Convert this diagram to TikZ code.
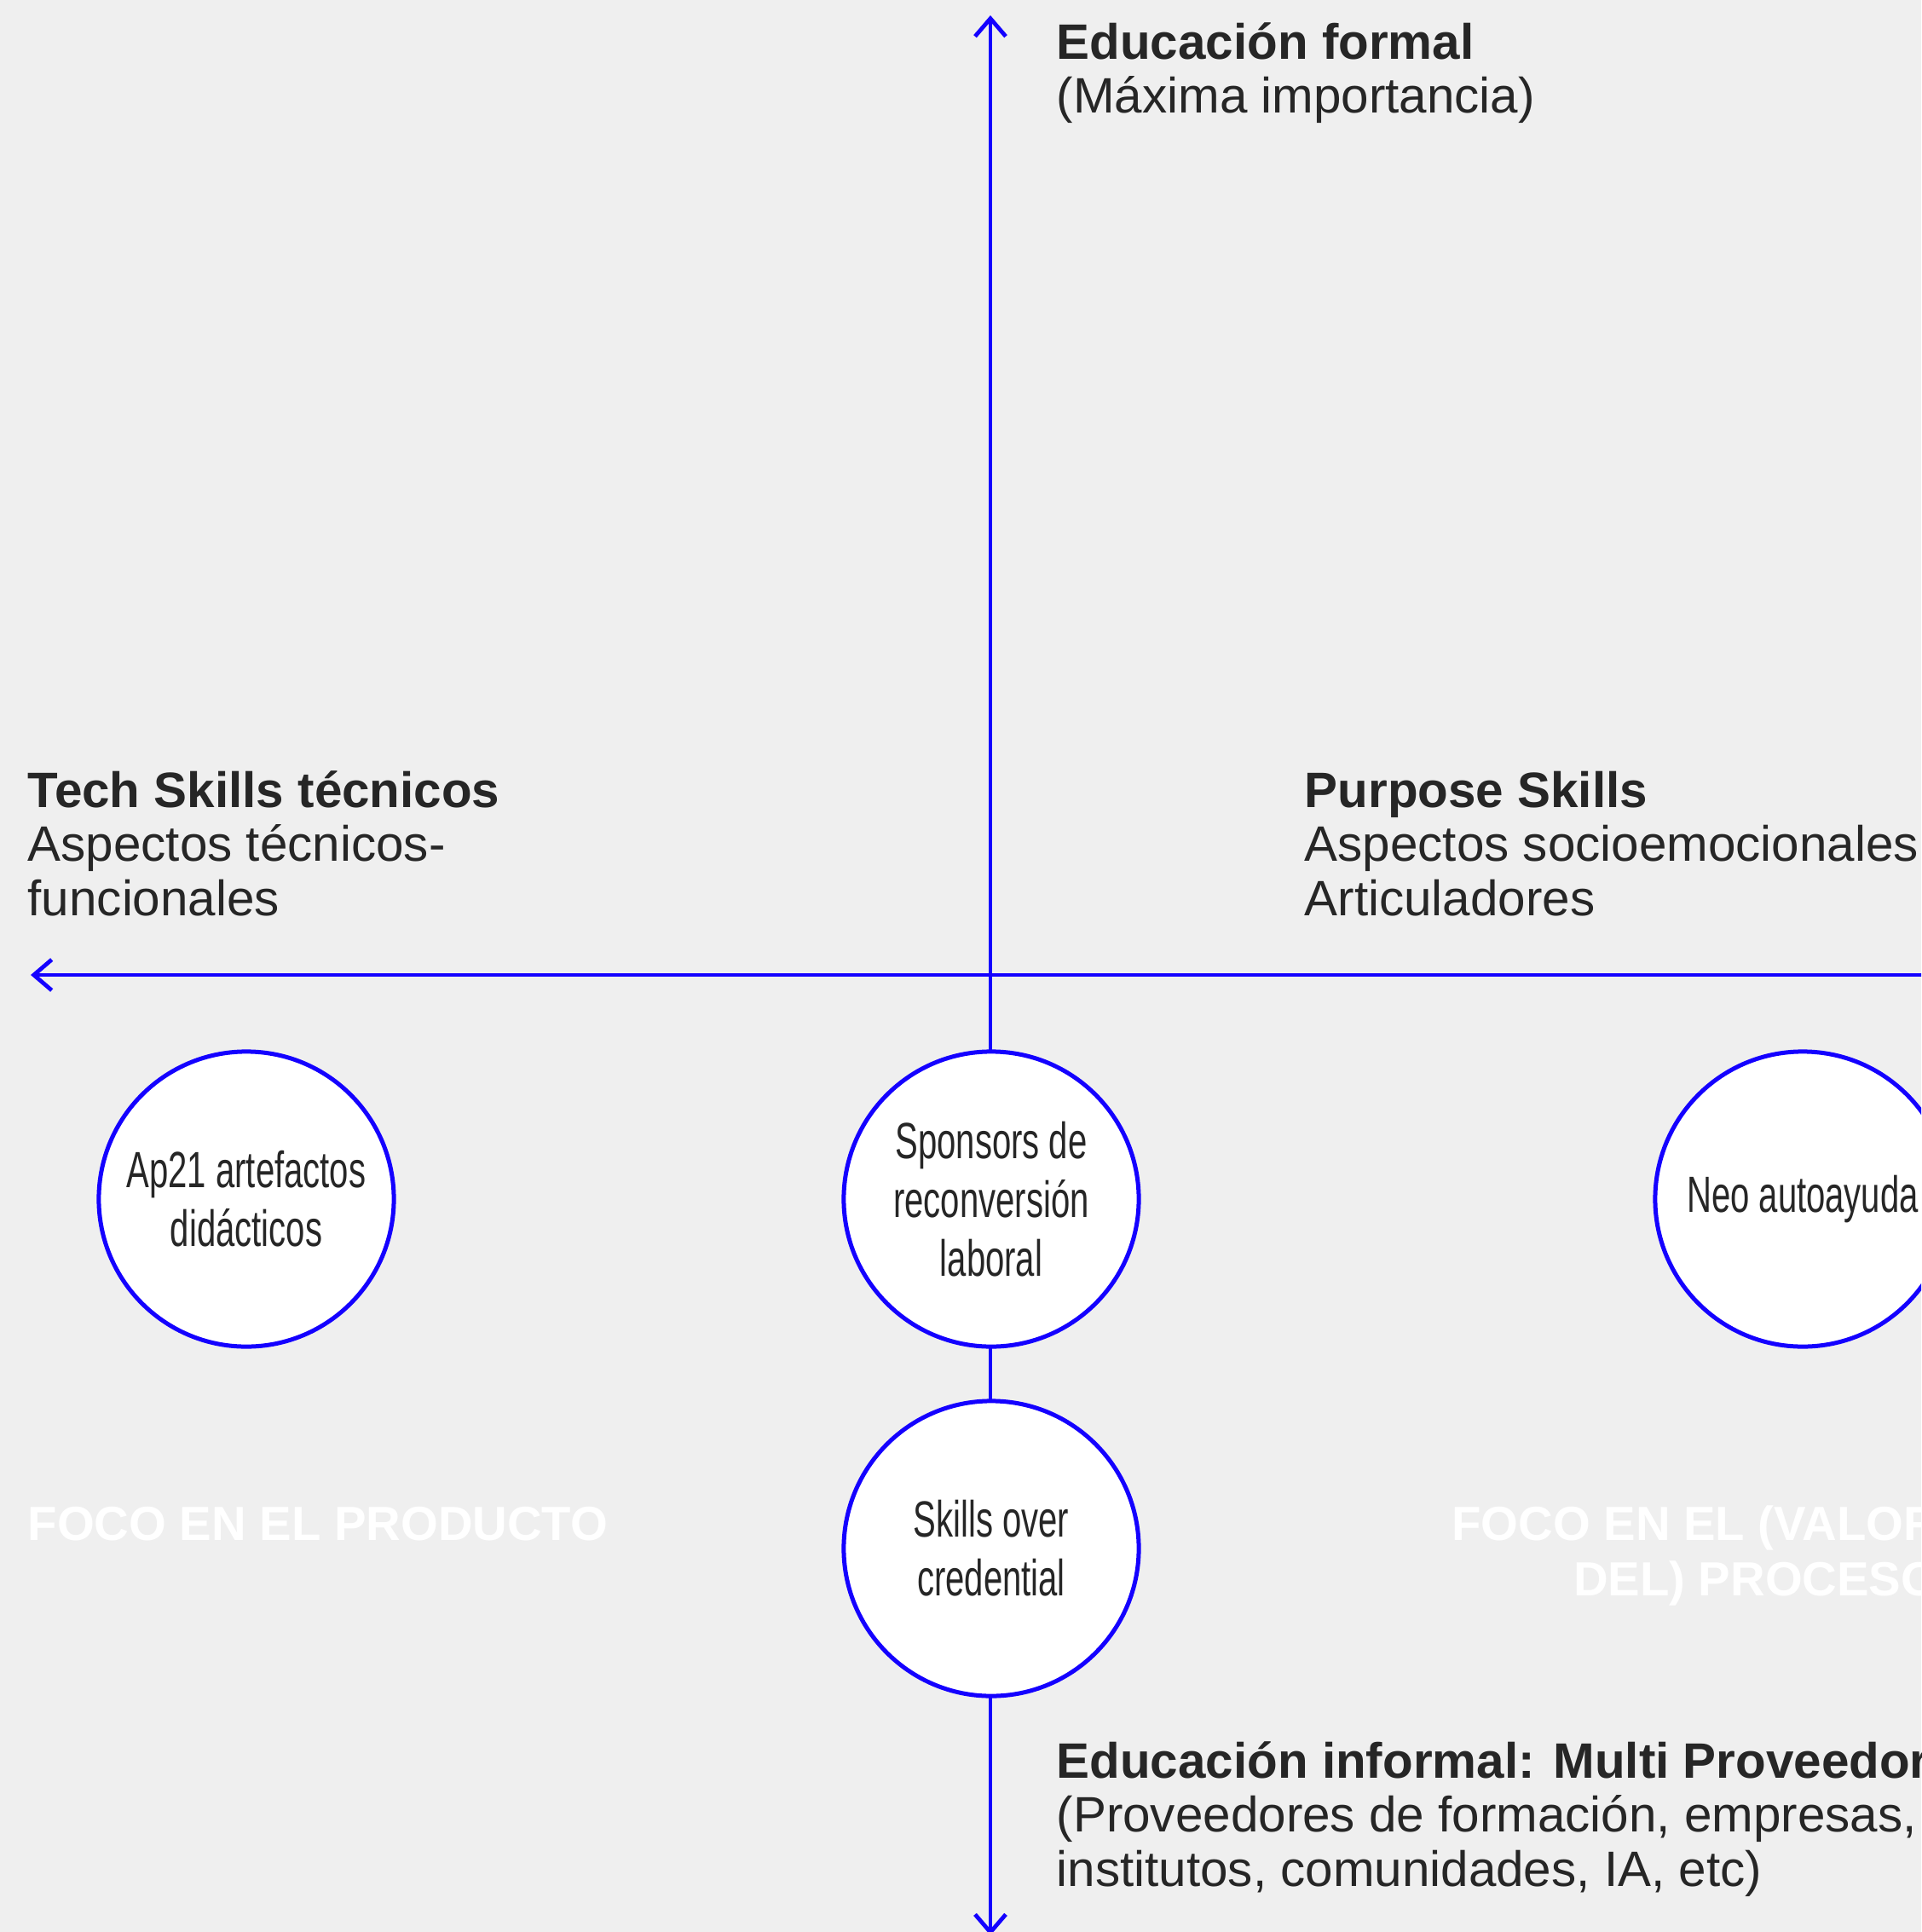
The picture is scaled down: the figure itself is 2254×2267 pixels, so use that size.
\documentclass[tikz,border=0pt]{standalone}
\usepackage{fontspec}
\setmainfont{Liberation Sans}
\newfontfamily\circfont[FakeStretch=0.67]{Liberation Sans}
\usetikzlibrary{arrows.meta,positioning}

\definecolor{axisblue}{RGB}{20,0,255}
\definecolor{textgray}{RGB}{38,38,38}
\definecolor{paper}{RGB}{239,239,239}

\begin{document}
\begin{tikzpicture}[
  x=0.01cm,y=-0.01cm,
  axis/.style={draw=axisblue, line width=0.048cm,
    {Straight Barb[length=2.1mm,width=3.6mm]}-{Straight Barb[length=2.1mm,width=3.6mm]}},
  quadrant/.style={circle, draw=axisblue, line width=0.05cm, fill=white,
    minimum size=3.46cm, inner sep=0pt, align=center, text=textgray,
    font=\circfont\fontsize{17}{19.6}\selectfont},
  heading/.style={anchor=base west, inner sep=0pt, align=left, text=textgray,
    font=\fontsize{16.6}{18}\selectfont},
  focus/.style={inner sep=0pt, text=white,
    font=\bfseries\fontsize{16}{18.4}\selectfont}
]
\useasboundingbox (0,0) rectangle (2254,2267);
\fill[paper] (0,0) rectangle (2254,2267);
\clip (0,0) rectangle (2254,2267);

% axes
\coordinate (top) at (1162,18);
\coordinate (bottom) at (1162,2271);
\coordinate (left) at (36,1144);
\coordinate (right) at (2320,1144);
\draw[axis] (bottom) -- (top);
\draw[axis] (right) -- (left);

% axis labels (anchored at the last line)
\node[heading] (formal) at (1239,133)
  {\textbf{Educación formal}\\(Máxima importancia)};
\node[heading] (tech) at (32,1074)
  {\textbf{Tech Skills técnicos}\\Aspectos técnicos-\\funcionales};
\node[heading] (purpose) at (1530,1074)
  {\textbf{Purpose Skills}\\Aspectos socioemocionales\\Articuladores};
\node[heading] (informal) at (1239,2213)
  {\textbf{Educación informal: Multi Proveedores}\\(Proveedores de formación, empresas,\\institutos, comunidades, IA, etc)};

% focus labels
\node[focus, anchor=base west] (producto) at (32,1807)
  {FOCO EN EL PRODUCTO};
\node[focus, anchor=base east, align=right] (proceso) at (2275,1872)
  {FOCO EN EL (VALOR\\DEL) PROCESO};

% circles
\node[quadrant] (ap21) at (289,1407) {Ap21 artefactos\\didácticos};
\node[quadrant] (sponsors) at (1163,1407) {Sponsors de\\reconversión\\laboral};
\node[quadrant] (neo) at (2115,1407) {Neo autoayuda};
\node[quadrant] (skills) at (1163,1817) {Skills over\\credential};
\end{tikzpicture}
\end{document}
